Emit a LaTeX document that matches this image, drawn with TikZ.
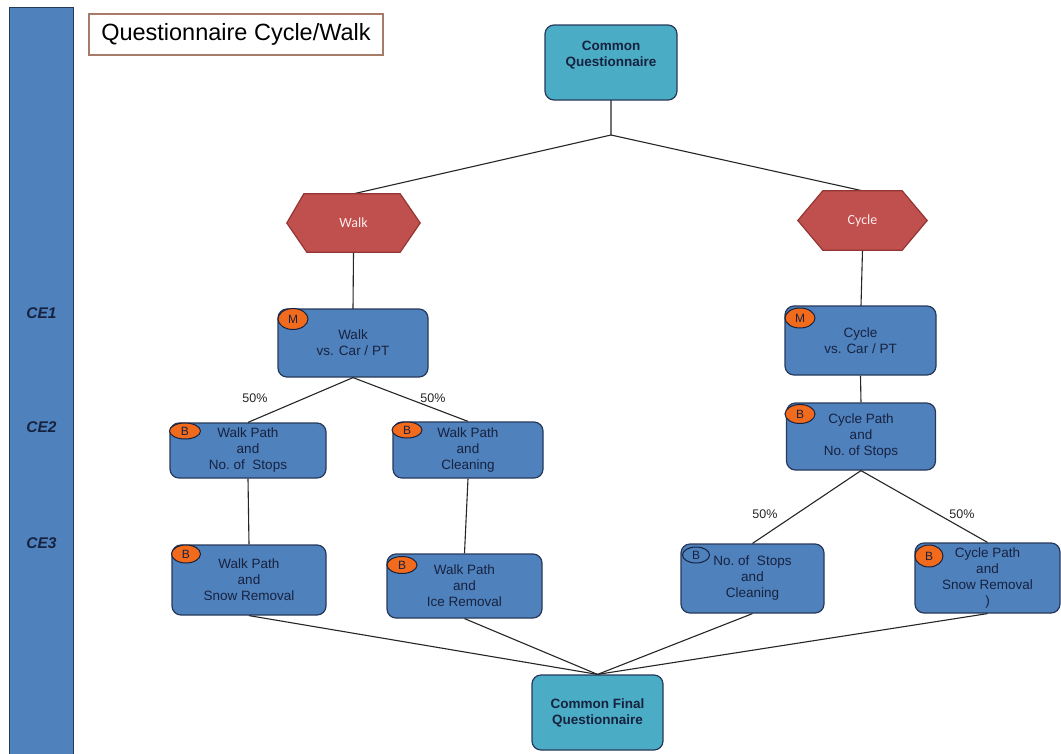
\documentclass[tikz,border=0pt]{standalone}
\usepackage{fontspec}
\setmainfont{Liberation Sans}
\newfontfamily\carl{Carlito}
\usetikzlibrary{calc,shapes.geometric}
\definecolor{boxblue}{HTML}{4F81BD}
\definecolor{boxedge}{HTML}{27395A}
\definecolor{navy}{HTML}{17223F}
\definecolor{tealbox}{HTML}{4BACC6}
\definecolor{hexred}{HTML}{C0504D}
\definecolor{hexedge}{HTML}{943634}
\definecolor{badgeor}{HTML}{F26A1B}
\definecolor{titleedge}{HTML}{A67C68}
\tikzset{
  box/.style={draw=boxedge, line width=1.2pt, fill=boxblue, rounded corners=9pt, inner sep=0pt, align=center, text=navy, font=\fontsize{13.5}{16}\selectfont},
  tbox/.style={box, fill=tealbox, font=\bfseries\fontsize{13.5}{16}\selectfont},
  badge/.style={ellipse, draw=navy, line width=1pt, fill=badgeor, inner sep=0pt, text=navy, font=\fontsize{12}{13}\selectfont},
  link/.style={draw=black!85, line width=1.1pt},
  hexbox/.style={minimum width=133pt, minimum height=58pt, inner sep=0pt},
  hexpath/.style={draw=hexedge, line width=1.2pt, fill=hexred},
  hextext/.style={text=white!92!red, font=\carl\fontsize{14}{16}\selectfont},
  celabel/.style={text=navy, font=\bfseries\itshape\fontsize{15.5}{18}\selectfont},
  pct/.style={text=black!85, font=\fontsize{12.5}{14}\selectfont}
}
\begin{document}
\begin{tikzpicture}[x=1pt,y=-1pt]
\useasboundingbox[fill=white] (0,0) rectangle (1061,753);
% left bar
\node[fill=boxblue, draw=boxedge, line width=1pt, minimum width=64pt, minimum height=770pt, anchor=north, inner sep=0pt] (bar) at (41,7) {};
\node[celabel] (ce1) at (41.5,313) {CE1};
\node[celabel] (ce2) at (41.5,427) {CE2};
\node[celabel] (ce3) at (41.5,543) {CE3};
% title
\node[draw=titleedge, line width=1.1pt, minimum width=294pt, minimum height=41pt, inner sep=0pt, font=\fontsize{23.5}{26}\selectfont] (title) at (236,34.5) {Questionnaire Cycle/Walk};
% placeholders for hexagons
\node[hexbox] (walk) at (353.5,223) {};
\node[hexbox, minimum width=129pt, minimum height=59pt] (cycle) at (862.5,220.5) {};
\coordinate (j) at (611,135);
% connectors
\draw[link] (611,100) -- (j) -- (walk.north);
\draw[link] (j) -- (cycle.north);
\draw[link] (walk.south) -- (353,309);
\draw[link] (cycle.south) -- (861,306);
% boxes
\node[tbox, minimum width=132pt, minimum height=75pt] (cq) at (611,62.5) {};
\node[text=navy, font=\bfseries\fontsize{13.5}{16}\selectfont, align=center] (cqt) at (611,55) {Common\\Questionnaire};
\node[box, minimum width=150pt, minimum height=68pt] (walkm) at (353,343) {Walk\\vs. Car / PT};
\node[box, minimum width=151pt, minimum height=69pt] (cyclem) at (860.5,340.5) {Cycle\\vs. Car / PT};
\node[box, minimum width=156pt, minimum height=55pt] (walkns) at (248,450.5) {Walk Path\\and\\No.\ of\ \ Stops};
\node[box, minimum width=150pt, minimum height=56pt] (walkcl) at (468,450) {Walk Path\\and\\Cleaning};
\node[box, minimum width=149pt, minimum height=67pt] (cyclep) at (861,436.5) {Cycle Path\\and\\No.\ of Stops};
\node[box, minimum width=154pt, minimum height=70pt] (walksn) at (249,580) {Walk Path\\and\\Snow Removal};
\node[box, minimum width=155pt, minimum height=64pt] (walkice) at (464.5,586) {Walk Path\\and\\Ice Removal};
\node[box, minimum width=143pt, minimum height=69pt] (nostops) at (752.5,578.5) {No.\ of\ \ Stops\\and\\Cleaning};
\node[box, minimum width=145pt, minimum height=70pt] (cyclesn) at (987.5,578) {Cycle Path\\and\\Snow Removal\\)};
\node[tbox, minimum width=131pt, minimum height=75pt] (final) at (597.5,712.5) {Common Final\\Questionnaire};
% connectors between boxes
\draw[link] (walkm.south) -- (walkns.north);
\draw[link] (walkm.south) -- (walkcl.north);
\draw[link] (cyclem.south) -- (cyclep.north);
\draw[link] (cyclep.south) -- (nostops.north);
\draw[link] (cyclep.south) -- (cyclesn.north);
\draw[link] (walkns.south) -- (walksn.north);
\draw[link] (walkcl.south) -- (walkice.north);
\draw[link] (walksn.south) -- (final.north);
\draw[link] (walkice.south) -- (final.north);
\draw[link] (nostops.south) -- (final.north);
\draw[link] (cyclesn.south) -- (final.north);
% hexagons
\draw[hexpath] (walk.west) -- ([xshift=17pt]walk.north west) -- ([xshift=-20pt]walk.north east) -- (walk.east) -- ([xshift=-20pt]walk.south east) -- ([xshift=20pt]walk.south west) -- cycle;
\node[hextext] (walkt) at (walk.center) {Walk};
\draw[hexpath] (cycle.west) -- ([xshift=25pt]cycle.north west) -- ([xshift=-25pt]cycle.north east) -- (cycle.east) -- ([xshift=-25pt]cycle.south east) -- ([xshift=25pt]cycle.south west) -- cycle;
\node[hextext] (cyclet) at (cycle.center) {Cycle};
% badges
\node[badge, minimum width=30pt, minimum height=21pt] (bm1) at (293,319) {M};
\node[badge, minimum width=30pt, minimum height=20pt] (bm2) at (800,318) {M};
\node[badge, minimum width=31pt, minimum height=16pt] (b1) at (185,431) {B};
\node[badge, minimum width=30pt, minimum height=16pt] (b2) at (407,430) {B};
\node[badge, minimum width=30pt, minimum height=19pt] (b3) at (800,414) {B};
\node[badge, minimum width=29pt, minimum height=18pt] (b4) at (186,554) {B};
\node[badge, minimum width=30pt, minimum height=17pt] (b5) at (402,565) {B};
\node[badge, fill=none, minimum width=27pt, minimum height=16pt] (b6) at (696,555) {B};
\node[badge, minimum width=28pt, minimum height=22pt] (b7) at (929,556) {B};
% percentages
\node[pct] (p1) at (255,398) {50\%};
\node[pct] (p2) at (433,398) {50\%};
\node[pct] (p3) at (765,514) {50\%};
\node[pct] (p4) at (962,514) {50\%};
\end{tikzpicture}
\end{document}
